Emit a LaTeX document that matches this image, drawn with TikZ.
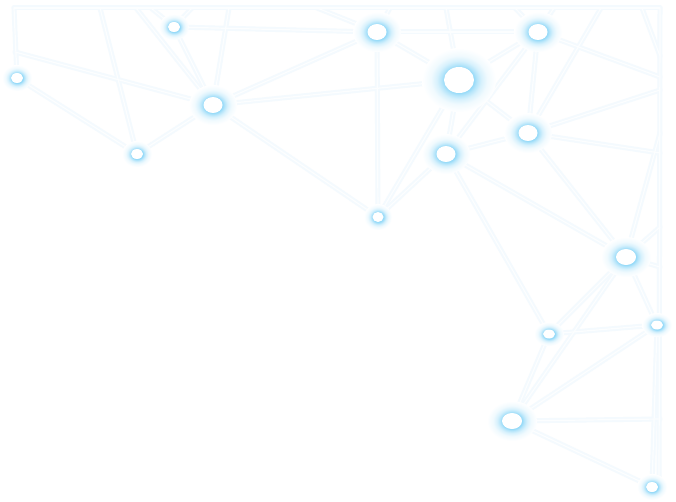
\documentclass[tikz,border=0pt]{standalone}
\usetikzlibrary{calc}
\definecolor{glowc}{RGB}{150,218,248}
\definecolor{hazec}{RGB}{244,250,254}
\definecolor{corec}{RGB}{252,254,255}
\pgfdeclareradialshading{glow}{\pgfpoint{0bp}{0bp}}{color(0bp)=(glowc); color(10bp)=(glowc); color(12bp)=(glowc!70); color(15bp)=(glowc!38); color(19bp)=(glowc!14); color(25bp)=(white); color(50bp)=(white)}
\tikzset{
  haze/.style={draw=hazec, line width=5pt, line cap=round},
  core/.style={draw=corec, line width=1.2pt, line cap=round},
}
\begin{document}
\begin{tikzpicture}[x=1pt,y=-1pt]
\useasboundingbox (0,0) rectangle (676,502);
\fill[white] (0,0) rectangle (676,502);
% frame points
\coordinate (fl) at (14,8);
\coordinate (fr) at (660,8);
\coordinate (fb) at (659,492);
\coordinate (c2) at (15,52);
\coordinate (t1) at (100,8);
\coordinate (t2) at (136,8);
\coordinate (t3) at (151,8);
\coordinate (t4) at (192,8);
\coordinate (t5) at (229,8);
\coordinate (t6) at (317,8);
\coordinate (t7) at (390,8);
\coordinate (t8) at (446,8);
\coordinate (t9) at (515,8);
\coordinate (t10) at (554,8);
\coordinate (t11) at (601,8);
\coordinate (t12) at (642,8);
\coordinate (r0) at (660,56);
\coordinate (r1) at (660,77);
\coordinate (r2) at (660,90);
\coordinate (r3) at (660,133);
\coordinate (r4) at (660,153);
\coordinate (r5) at (660,227);
\coordinate (r6) at (660,267);
\coordinate (r7) at (660,419);
% node centres
\coordinate (n1) at (17,78);
\coordinate (n2) at (174,27);
\coordinate (n3) at (213,105);
\coordinate (n4) at (137,154);
\coordinate (n5) at (377,32);
\coordinate (n6) at (459,80);
\coordinate (n7) at (538,32);
\coordinate (n8) at (446,154);
\coordinate (n9) at (528,133);
\coordinate (n10) at (378,217);
\coordinate (n11) at (626,257);
\coordinate (n12) at (549,334);
\coordinate (n13) at (657,325);
\coordinate (n14) at (512,421);
\coordinate (n15) at (652,487);
% edges
\foreach \layer in {haze,core}{
  \foreach \a/\b in {fl/fr, fr/fb, fl/n1, n1/n4, c2/n3, n2/n3, n2/n5, n2/t3, n2/t4,
    n3/n4, n3/n5, n3/n6, n3/n10, n3/t5, n3/t2, n4/t1,
    n5/n6, n5/n7, n5/n10, n5/t6, n5/t7,
    n6/n7, n6/n8, n6/n9, n6/n10, n6/t8,
    n7/n8, n7/n9, n7/t9, n7/t10, n7/r1, t12/r0,
    n8/n9, n8/n10, n8/n12, n8/n11, n9/n11, n9/r2, n9/r4, t11/n9,
    n11/r3, n11/r5, n11/r6, n11/n12, n11/n13, n11/n14,
    n12/n13, n12/n14, n13/n14, n13/n15, n14/n15, n14/r7}{
    \draw[\layer] (\a) -- (\b);
  }
}
% glowing nodes
\shade[shading=glow] (n1) ellipse (15 and 13);
\shade[shading=glow] (n2) ellipse (15 and 13);
\shade[shading=glow] (n3) ellipse (24 and 20);
\shade[shading=glow] (n4) ellipse (15 and 13);
\shade[shading=glow] (n5) ellipse (24 and 20);
\shade[shading=glow] (n6) ellipse (37 and 32);
\shade[shading=glow] (n7) ellipse (24 and 20);
\shade[shading=glow] (n8) ellipse (24 and 20);
\shade[shading=glow] (n9) ellipse (24 and 20);
\shade[shading=glow] (n10) ellipse (14 and 13);
\shade[shading=glow] (n11) ellipse (25 and 20);
\shade[shading=glow] (n12) ellipse (15 and 12);
\shade[shading=glow] (n13) ellipse (15 and 12);
\shade[shading=glow] (n14) ellipse (25 and 20);
\shade[shading=glow] (n15) ellipse (15 and 13);
\fill[white] (n1) ellipse (6 and 5);
\fill[white] (n2) ellipse (6 and 5);
\fill[white] (n3) ellipse (9.5 and 8);
\fill[white] (n4) ellipse (6 and 5);
\fill[white] (n5) ellipse (9.5 and 8);
\fill[white] (n6) ellipse (15 and 13);
\fill[white] (n7) ellipse (9.5 and 8);
\fill[white] (n8) ellipse (9.5 and 8);
\fill[white] (n9) ellipse (9.5 and 8);
\fill[white] (n10) ellipse (5.5 and 5);
\fill[white] (n11) ellipse (10 and 8);
\fill[white] (n12) ellipse (6 and 4.5);
\fill[white] (n13) ellipse (6 and 4.5);
\fill[white] (n14) ellipse (10 and 8);
\fill[white] (n15) ellipse (6 and 5);
\end{tikzpicture}
\end{document}
